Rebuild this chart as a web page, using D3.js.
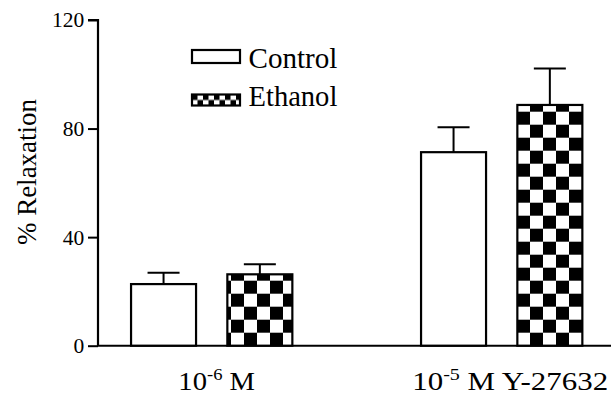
<!DOCTYPE html>
<html><head><meta charset="utf-8">
<script src="https://cdn.jsdelivr.net/npm/d3@7"></script>
<style>body{margin:0;background:#fff}svg{display:block}</style>
</head><body><svg id="c" width="611" height="396"></svg>
<script>
const categories = ["g1", "g2"];
const labelBase = ["10", "10"];
const labelExp = ["-6", "-5"];
const labelTail = [" M", " M  Y-27632"];
const series = ["Control", "Ethanol"];
const control = [22.7, 71.3];
const controlErr = [4.2, 9.2];
const ethanol = [26.3, 88.7];
const ethanolErr = [3.7, 13.4];
const yTicks = [0, 40, 80, 120];
const yTitle = "% Relaxation";

const FONT = '"Liberation Serif", Tinos, "Times New Roman", serif';
const BASE = 20;
const svg = d3.select("#c");
const defs = svg.append("defs");
function checker(id, s, ox, oy) {
  const p = defs.append("pattern").attr("id", id).attr("patternUnits", "userSpaceOnUse")
    .attr("width", 2*s).attr("height", 2*s).attr("x", ox).attr("y", oy);
  p.append("rect").attr("width", 2*s).attr("height", 2*s).attr("fill", "#fff");
  p.append("rect").attr("width", s).attr("height", s).attr("fill", "#000");
  p.append("rect").attr("x", s).attr("y", s).attr("width", s).attr("height", s).attr("fill", "#000");
}

const y = d3.scaleLinear().domain([0, 120]).range([345.7, 20]);
const x0 = d3.scalePoint().domain(categories).range([211.7, 501.7]);
const x1 = d3.scaleBand().domain(series).range([-80.65, 80.65]).paddingInner(0.325);

checker("chk", 13, 244, y(0) - 13);
checker("chkL", 5.5, 192, 94.5);

// axes
const tk = 21.5 / BASE;
const yAxis = d3.axisLeft(y).tickValues(yTicks).tickSize(10).tickPadding(2.7);
const ga = svg.append("g").attr("transform", "translate(98,0)").call(yAxis);
ga.attr("font-family", FONT).attr("font-size", BASE);
ga.select(".domain").attr("stroke-width", 2.2).attr("d", `M-10,${y(120)}H0V${y(0)}`);
ga.selectAll(".tick line").attr("stroke-width", 2);
ga.selectAll(".tick text").attr("fill", "#000").attr("transform", `scale(${tk})`)
  .each(function() {
    const s = d3.select(this); const txt = s.text(); s.text(null);
    s.append("tspan").attr("font-family", FONT).text(txt);
  });

svg.append("line").attr("x1", 97).attr("x2", 611).attr("y1", y(0)).attr("y2", y(0))
  .attr("stroke", "#000").attr("stroke-width", 2);

svg.append("text").attr("transform", `translate(35.5,172) rotate(-90) scale(${27 / BASE})`).attr("text-anchor", "middle")
  .attr("font-family", FONT).attr("font-size", BASE)
  .append("tspan").attr("font-family", FONT).text(yTitle);

// bars
const data = [];
categories.forEach((c, i) => {
  data.push({c, s: "Control", v: control[i], e: controlErr[i]});
  data.push({c, s: "Ethanol", v: ethanol[i], e: ethanolErr[i]});
});
const bw = x1.bandwidth();
const g = svg.append("g");
data.forEach(d => {
  const xl = x0(d.c) + x1(d.s);
  const cx = xl + bw/2;
  g.append("line").attr("x1", cx).attr("x2", cx).attr("y1", y(d.v)).attr("y2", y(d.v + d.e)).attr("stroke", "#000").attr("stroke-width", 2);
  g.append("line").attr("x1", cx - 16).attr("x2", cx + 16).attr("y1", y(d.v + d.e)).attr("y2", y(d.v + d.e)).attr("stroke", "#000").attr("stroke-width", 2);
  g.append("rect").attr("x", xl).attr("y", y(d.v)).attr("width", bw).attr("height", y(0) - y(d.v))
    .attr("fill", d.s === "Control" ? "#fff" : "url(#chk)").attr("stroke", "#000").attr("stroke-width", 2.2);
});

function place(t, x, yy, w, sy) {
  const b = t.node().getBBox();
  const sx = w / b.width;
  t.attr("transform", `translate(${x},${yy}) scale(${sx},${sy})`);
}

// x labels
const labW = [77, 196];
const labDx = [5, 8.5];
categories.forEach((c, i) => {
  const t = svg.append("text").attr("x", 0).attr("y", 0).attr("text-anchor", "middle")
    .attr("font-family", FONT).attr("font-size", BASE);
  t.append("tspan").text(labelBase[i]);
  t.append("tspan").attr("font-size", 13).attr("dy", -8).text(labelExp[i]);
  t.append("tspan").attr("dy", 8).text(labelTail[i]);
  place(t, x0(c) + labDx[i], 390, labW[i], 25 / BASE);
});

// legend
const lg = svg.append("g");
[["Control", "#fff", 50, 68, 13], ["Ethanol", "url(#chkL)", 94.5, 106, 11]].forEach(([name, fill, yy, by, h]) => {
  lg.append("rect").attr("x", 192).attr("y", yy).attr("width", 48).attr("height", h)
    .attr("fill", fill).attr("stroke", "#000").attr("stroke-width", 2.2);
  const t = lg.append("text").attr("x", 0).attr("y", 0)
    .attr("font-family", FONT).attr("font-size", BASE);
  t.append("tspan").attr("font-family", FONT).text(name);
  place(t, 248.5, by, 89.5, 30 / BASE);
});
</script></body></html>
